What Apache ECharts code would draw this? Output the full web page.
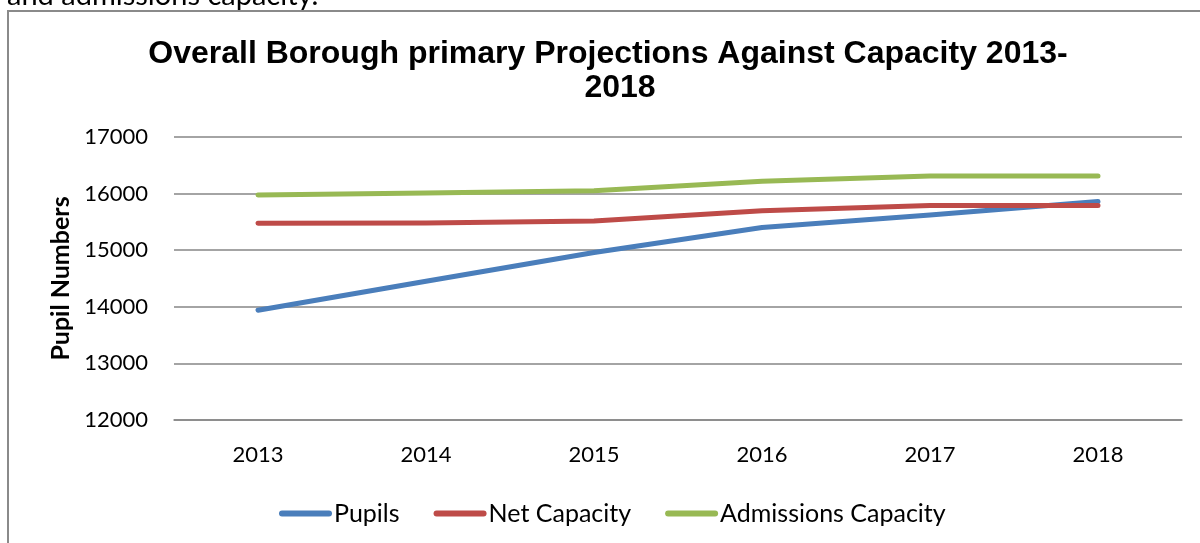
<!DOCTYPE html>
<html>
<head>
<meta charset="utf-8">
<script src="https://cdn.jsdelivr.net/npm/echarts@6/dist/echarts.min.js"></script>
<style>
html,body{margin:0;padding:0;background:#fff;}
#chart{width:1200px;height:543px;}
</style>
</head>
<body>
<div id="chart"></div>
<script>
const categories = ['2013','2014','2015','2016','2017','2018'];
const pupils = [13940, 14450, 14960, 15400, 15620, 15860];
const netCapacity = [15475, 15480, 15515, 15695, 15790, 15790];
const admissionsCapacity = [15975, 16010, 16050, 16220, 16310, 16310];
const yTicks = [12000, 13000, 14000, 15000, 16000, 17000];
const titleLines = ['Overall Borough primary Projections Against Capacity 2013-', '2018'];

const FONT = 'Lato';
const chart = echarts.init(document.getElementById('chart'), null, {renderer:'canvas'});
const mk = (name, data, color) => ({
  name, type:'line', data, symbol:'none', smooth:false,
  lineStyle:{color, width:5, cap:'round', join:'round'},
  itemStyle:{color}
});
chart.setOption({
  animation:false,
  backgroundColor:'#fff',
  graphic:[
    {type:'rect', shape:{x:8, y:11, width:1300, height:700}, style:{fill:'none', stroke:'#8a8a8a', lineWidth:2}, silent:true},
    {type:'text', x:7, y:-4, style:{text:'and admissions capacity.', fontFamily:FONT, fontSize:29, fill:'#000', verticalAlign:'middle'}},
    {type:'text', x:608, y:54, style:{text:titleLines[0], fontFamily:'Liberation Sans', fontWeight:'bold', fontSize:32, fill:'#000', align:'center', verticalAlign:'middle'}},
    {type:'text', x:620, y:88, style:{text:titleLines[1], fontFamily:'Liberation Sans', fontWeight:'bold', fontSize:32, fill:'#000', align:'center', verticalAlign:'middle'}}
  ],
  grid:{left:174, right:18, top:137, bottom:123, containLabel:false},
  legend:{
    left:274, top:496, itemWidth:53, itemHeight:14, itemGap:34,
    icon:'path://M3,0L50,0A3,3 0 0 1 50,6L3,6A3,3 0 0 1 3,0Z',
    textStyle:{fontFamily:FONT, fontSize:25, color:'#000', padding:[0,0,0,-3]},
    data:['Pupils','Net Capacity','Admissions Capacity']
  },
  xAxis:{
    type:'category', data:categories, boundaryGap:true,
    axisLine:{show:true, lineStyle:{color:'#868686', width:1.5}},
    axisTick:{show:false},
    axisLabel:{fontFamily:FONT, fontSize:22, color:'#000', margin:24}
  },
  yAxis:{
    type:'value', min:yTicks[0], max:yTicks[yTicks.length-1], interval:1000,
    name:'Pupil Numbers', nameLocation:'middle', nameGap:98, nameRotate:90,
    nameTextStyle:{fontFamily:FONT, fontWeight:'bold', fontSize:25, color:'#000'},
    axisLine:{show:false}, axisTick:{show:false},
    splitLine:{lineStyle:{color:'#868686', width:1.5}},
    axisLabel:{fontFamily:FONT, fontSize:22, color:'#000', margin:26, formatter:(v)=>String(v)}
  },
  series:[
    mk('Pupils', pupils, '#4A7EBB'),
    mk('Net Capacity', netCapacity, '#BE4B48'),
    mk('Admissions Capacity', admissionsCapacity, '#98B954')
  ]
});
</script>
</body>
</html>
